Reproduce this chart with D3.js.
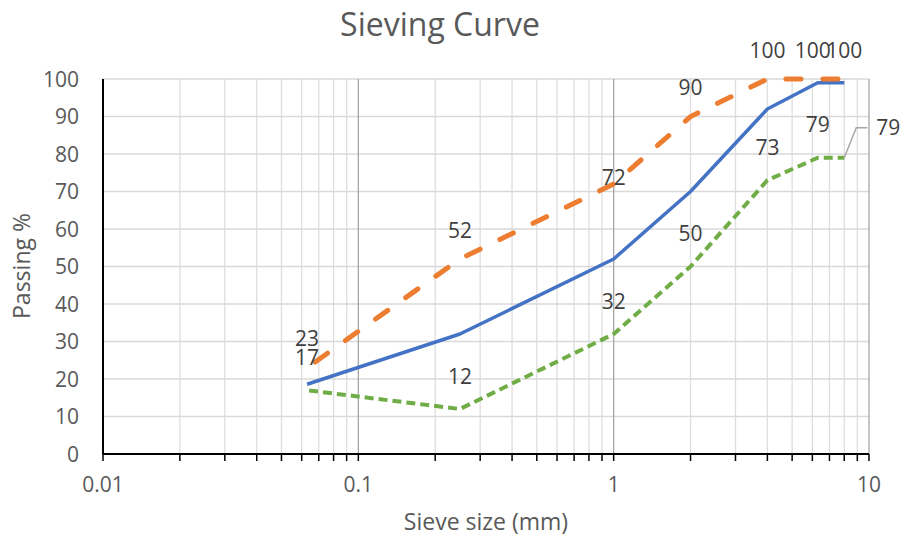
<!DOCTYPE html>
<html>
<head>
<meta charset="utf-8">
<style>
  body { margin: 0; background: #fff; }
  text { font-family: "Open Sans", sans-serif; }
</style>
</head>
<body>
<script src="https://cdn.jsdelivr.net/npm/d3@7"></script>
<script>
  // sieve sizes (mm) and passing % for the three curves
  var sizes  = [0.063, 0.25, 1, 2, 4, 6.3, 8];
  var middle = [18.6, 32, 52, 70, 92, 99, 99];
  var upper  = [23, 52, 72, 90, 100, 100, 100];
  var lower  = [17, 12, 32, 50, 73, 79, 79];
  var xTicks = [0.01, 0.1, 1, 10];
  var yTicks = [0, 10, 20, 30, 40, 50, 60, 70, 80, 90, 100];

  var w = 917, h = 536;
  // plot box (note: "top" is reserved on window)
  var pLeft = 103, pRight = 869, pTop = 79, pBottom = 454;

  var svg = d3.select("body").append("svg")
    .attr("width", w).attr("height", h);

  var x = d3.scaleLog().domain([0.01, 10]).range([pLeft, pRight]);
  var y = d3.scaleLinear().domain([0, 100]).range([pBottom, pTop]);

  // minor positions 1..9 in every decade
  var minor = [];
  [0.01, 0.1, 1].forEach(function(d) {
    for (var k = 1; k < 10; k++) minor.push(+(d * k).toPrecision(3));
  });
  minor.push(10);

  // vertical minor grid
  svg.append("g").selectAll("line")
    .data(minor.filter(function(d) { return xTicks.indexOf(d) < 0; }))
    .enter().append("line")
    .attr("x1", function(d) { return x(d); }).attr("x2", function(d) { return x(d); })
    .attr("y1", pTop).attr("y2", pBottom)
    .attr("stroke", "#dedede").attr("stroke-width", 1.3);

  // horizontal grid
  svg.append("g").selectAll("line")
    .data(yTicks.slice(1))
    .enter().append("line")
    .attr("x1", pLeft).attr("x2", pRight)
    .attr("y1", function(d) { return y(d); }).attr("y2", function(d) { return y(d); })
    .attr("stroke", "#d9d9d9").attr("stroke-width", 1.3);

  // vertical major grid
  svg.append("g").selectAll("line")
    .data(xTicks.slice(1))
    .enter().append("line")
    .attr("x1", function(d) { return x(d); }).attr("x2", function(d) { return x(d); })
    .attr("y1", pTop).attr("y2", pBottom)
    .attr("stroke", "#a6a6a6").attr("stroke-width", 1.3);

  // bottom axis with ticks at every minor position
  svg.append("g").selectAll("line")
    .data(minor)
    .enter().append("line")
    .attr("x1", function(d) { return x(d); }).attr("x2", function(d) { return x(d); })
    .attr("y1", pBottom).attr("y2", pBottom + 7)
    .attr("stroke", "#000").attr("stroke-width", 1.5);
  svg.append("line")
    .attr("x1", pLeft).attr("x2", pRight).attr("y1", pBottom).attr("y2", pBottom)
    .attr("stroke", "#000").attr("stroke-width", 2);
  svg.append("line")
    .attr("x1", pLeft).attr("x2", pLeft).attr("y1", pTop).attr("y2", pBottom)
    .attr("stroke", "#000").attr("stroke-width", 2);

  svg.append("g").selectAll("text")
    .data(xTicks)
    .enter().append("text")
    .attr("x", function(d) { return x(d); })
    .attr("y", pBottom + 38)
    .attr("text-anchor", "middle")
    .attr("font-size", "21px").attr("fill", "#595959")
    .text(function(d) { return d; });

  svg.append("g").selectAll("text")
    .data(yTicks)
    .enter().append("text")
    .attr("x", 79)
    .attr("y", function(d) { return y(d); })
    .attr("dy", "0.36em")
    .attr("text-anchor", "end")
    .attr("font-size", "21px").attr("fill", "#595959")
    .text(function(d) { return d; });

  // titles
  svg.append("text")
    .attr("x", 440).attr("y", 36)
    .attr("text-anchor", "middle")
    .attr("font-size", "32px").attr("fill", "#595959")
    .text("Sieving Curve");
  svg.append("text")
    .attr("x", (pLeft + pRight) / 2).attr("y", 530)
    .attr("text-anchor", "middle")
    .attr("font-size", "23px").attr("fill", "#595959")
    .text("Sieve size (mm)");
  svg.append("text")
    .attr("transform", "translate(30," + 266 + ") rotate(-90)")
    .attr("text-anchor", "middle")
    .attr("font-size", "23px").attr("fill", "#595959")
    .text("Passing %");

  var line = d3.line()
    .x(function(d, i) { return x(sizes[i]); })
    .y(function(d) { return y(d); });

  svg.append("path").datum(lower)
    .attr("d", line).attr("fill", "none")
    .attr("stroke", "#70ad47").attr("stroke-width", 4)
    .attr("stroke-dasharray", "9,5").attr("stroke-dashoffset", 12);

  svg.append("path").datum(middle)
    .attr("d", line).attr("fill", "none")
    .attr("stroke", "#4472c4").attr("stroke-width", 3.5)
    .attr("stroke-linejoin", "round");

  svg.append("path").datum(upper)
    .attr("d", line).attr("fill", "none")
    .attr("stroke", "#ed7d31").attr("stroke-width", 5)
    .attr("stroke-linecap", "round")
    .attr("stroke-dasharray", "15,22").attr("stroke-dashoffset", 27);

  // data labels
  function labels(values, dy, skipLast, tweak) {
    svg.append("g").selectAll("text")
      .data(skipLast ? values.slice(0, -1) : values)
      .enter().append("text")
      .attr("x", function(d, i) { return x(sizes[i]) + ((tweak[i] || {}).dx || 0); })
      .attr("y", function(d, i) { return y(d) + ((tweak[i] || {}).dy || dy); })
      .attr("dy", "0.36em")
      .attr("text-anchor", "middle")
      .attr("font-size", "21px").attr("fill", "#404040")
      .text(function(d) { return d; });
  }
  labels(upper, -29, false, { 2: { dy: -7 }, 5: { dx: -5 } });
  labels(lower, -33, true, {});

  // last green label sits to the right with a leader line
  var li = lower.length - 1;
  var px = x(sizes[li]), py = y(lower[li]);
  svg.append("path")
    .attr("d", "M" + px + "," + py + "L" + (px + 12) + "," + (py - 30) + "L" + (px + 23) + "," + (py - 30))
    .attr("fill", "none").attr("stroke", "#a6a6a6").attr("stroke-width", 1.5);
  svg.append("text")
    .attr("x", px + 32).attr("y", py - 30)
    .attr("dy", "0.36em")
    .attr("font-size", "21px").attr("fill", "#404040")
    .text(lower[li]);
</script>
</body>
</html>
